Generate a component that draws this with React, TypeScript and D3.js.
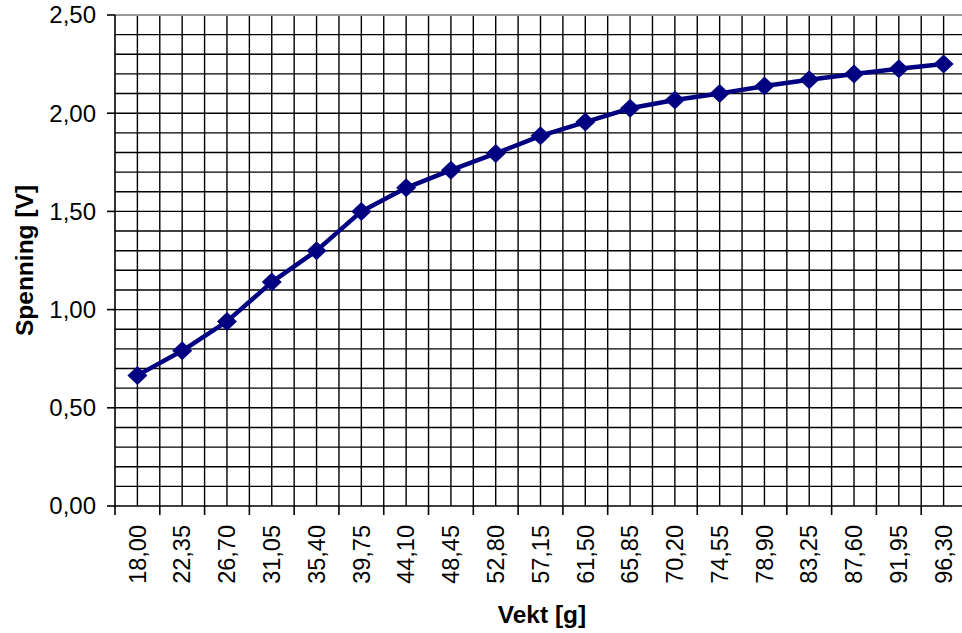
import React from 'react';
import { scaleBand, scaleLinear, line, range } from 'd3';

const categories = ['18,00', '22,35', '26,70', '31,05', '35,40', '39,75', '44,10', '48,45', '52,80', '57,15',
  '61,50', '65,85', '70,20', '74,55', '78,90', '83,25', '87,60', '91,95', '96,30'];
const spenning = [0.665, 0.79, 0.94, 1.14, 1.30, 1.50, 1.62, 1.71, 1.795, 1.885,
  1.955, 2.025, 2.067, 2.10, 2.138, 2.17, 2.20, 2.226, 2.25];
const yTicks = [0, 0.5, 1, 1.5, 2, 2.5];
const yTickLabels = ['0,00', '0,50', '1,00', '1,50', '2,00', '2,50'];

const W = 962, H = 633;
const margin = { top: 15, left: 115, right: -4, bottom: 127 };

export default function App() {
  const x = scaleBand().domain(categories).range([margin.left, W - margin.right]);
  const y = scaleLinear().domain([0, 2.5]).range([H - margin.bottom, margin.top]);
  const bw = x.bandwidth();
  const x0 = margin.left, x1 = W - margin.right;
  const y0 = y(0), y1 = y(2.5);

  // gridlines every 0.1 V and every half category
  const hGrid = range(1, 25).map((i) => i / 10);
  const vGrid = range(1, categories.length * 2 + 1).map((i) => x0 + (bw / 2) * i);

  const pts = categories.map((c, i) => [x(c)! + bw / 2, y(spenning[i])] as [number, number]);
  const path = line()(pts) || '';
  const font = 'Arial, "Liberation Sans", sans-serif';

  return (
    <div style={{ position: 'absolute', left: 0, top: 0 }}>
      <svg width={W} height={H} style={{ display: 'block', background: '#fff' }}>
        {hGrid.map((v) => (
          <line key={'h' + v} x1={x0} x2={x1} y1={y(v)} y2={y(v)} stroke="#000" strokeWidth={1.4} />
        ))}
        {vGrid.map((vx, i) => (
          <line key={'v' + i} x1={vx} x2={vx} y1={y1} y2={y0} stroke="#000" strokeWidth={1.4} />
        ))}
        <line x1={x0} x2={x1} y1={y1} y2={y1} stroke="#999" strokeWidth={2} />

        {/* y axis */}
        <line x1={x0} x2={x0} y1={y1} y2={y0} stroke="#000" strokeWidth={1.6} />
        {yTicks.map((t, i) => (
          <g key={'yt' + t}>
            <line x1={x0 - 8} x2={x0} y1={y(t)} y2={y(t)} stroke="#000" strokeWidth={1.6} />
            <text x={96} y={y(t)} dy="0.35em" textAnchor="end" fontFamily={font} fontSize={24}>
              {yTickLabels[i]}
            </text>
          </g>
        ))}

        {/* x axis */}
        <line x1={x0} x2={x1} y1={y0} y2={y0} stroke="#000" strokeWidth={1.6} />
        {range(categories.length + 1).map((i) => (
          <line key={'xt' + i} x1={x0 + bw * i} x2={x0 + bw * i} y1={y0} y2={y0 + 9} stroke="#000" strokeWidth={1.6} />
        ))}
        {categories.map((c) => (
          <text
            key={'xl' + c}
            transform={`translate(${x(c)! + bw / 2},${y0 + 19}) rotate(-90)`}
            dy="0.35em"
            textAnchor="end"
            fontFamily={font}
            fontSize={23.5}
          >
            {c}
          </text>
        ))}

        {/* series */}
        <path d={path} fill="none" stroke="#000080" strokeWidth={4.5} strokeLinejoin="round" />
        {pts.map(([px, py], i) => (
          <path
            key={'m' + i}
            d={`M${px},${py - 9.5}L${px + 10},${py}L${px},${py + 9.5}L${px - 10},${py}Z`}
            fill="#000080"
          />
        ))}

        {/* titles */}
        <text
          transform={`translate(33,${(y0 + y1) / 2}) rotate(-90)`}
          textAnchor="middle"
          fontFamily={font}
          fontSize={24.5}
          fontWeight="bold"
        >
          Spenning [V]
        </text>
        <text x={542} y={623} textAnchor="middle" fontFamily={font} fontSize={24.5} fontWeight="bold">
          Vekt [g]
        </text>
      </svg>
    </div>
  );
}
